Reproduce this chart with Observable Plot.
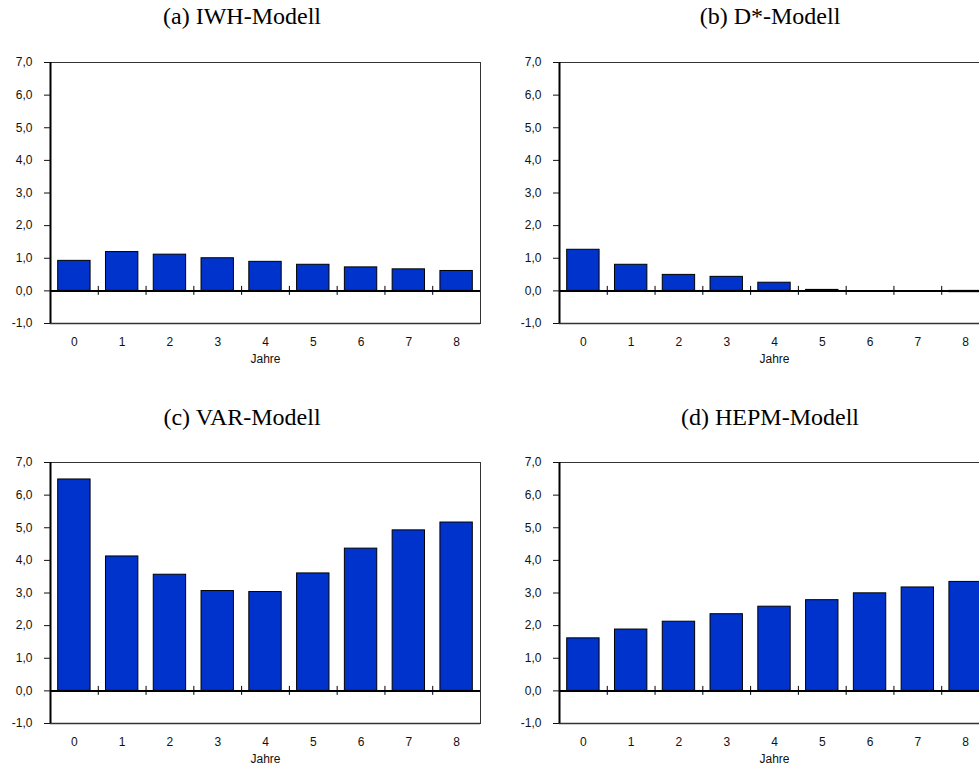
<!DOCTYPE html>
<html><head><meta charset="utf-8">
<script src="https://cdn.jsdelivr.net/npm/d3@7"></script>
<script src="https://cdn.jsdelivr.net/npm/@observablehq/plot@0.6"></script>
<style>
html,body{margin:0;padding:0;background:#fff;overflow:hidden;}
#wrap{position:relative;width:979px;height:769px;overflow:hidden;background:#fff;}
.title{position:absolute;font-family:"Liberation Serif","Times New Roman",serif;font-size:24px;color:#000;transform:translateX(-50%);white-space:nowrap;line-height:1;}
.panel{position:absolute;width:490px;}
.panel svg{max-width:none !important;width:490px;}
</style></head><body><div id="wrap"></div>
<script>
const years = [0, 1, 2, 3, 4, 5, 6, 7, 8];
const iwh   = [0.92, 1.19, 1.11, 1.00, 0.89, 0.80, 0.72, 0.66, 0.61];
const dstar = [1.26, 0.80, 0.49, 0.43, 0.25, 0.03, 0.00, 0.00, -0.04];
const varM  = [6.48, 4.12, 3.56, 3.06, 3.03, 3.60, 4.36, 4.92, 5.16];
const hepm  = [1.61, 1.88, 2.12, 2.35, 2.58, 2.78, 2.99, 3.17, 3.34];
const yTicks = [-1, 0, 1, 2, 3, 4, 5, 6, 7];
const titles = ["(a) IWH-Modell", "(b) D*-Modell", "(c) VAR-Modell", "(d) HEPM-Modell"];
const xLabel = "Jahre";

const wrap = document.getElementById("wrap");
const bounds = years.slice(1).map(y => y - 0.5);

function panel(values, title, left, top, titleX, titleTop) {
  const data = years.map((y, i) => ({year: y, value: values[i]}));
  const chart = Plot.plot({
    width: 490, height: 329,
    marginLeft: 50, marginRight: 10, marginTop: 20, marginBottom: 48,
    style: {fontFamily: "'Liberation Sans', Arial, sans-serif", fontSize: "12px", color: "#111", background: "#fff", overflow: "visible", maxWidth: "none"},
    x: {domain: [-0.5, 8.5], label: null},
    y: {domain: [-1, 7], label: null},
    marks: [
      Plot.rectY(data, {x1: d => d.year - 0.5, x2: d => d.year + 0.5, y: "value",
        fill: "#0033cc", stroke: "#000", strokeWidth: 1, insetLeft: 7.7, insetRight: 7.7}),
      Plot.frame({stroke: "#333", strokeWidth: 1}),
      Plot.ruleY([-1], {stroke: "#333", strokeWidth: 1.5}),
      Plot.ruleY([0], {stroke: "#000", strokeWidth: 2}),
      Plot.ruleX([-0.5], {stroke: "#000", strokeWidth: 2}),
      Plot.ruleX(bounds, {x: d => d, y1: 0, y2: 0, insetTop: -4.5, insetBottom: -4.5, stroke: "#000", strokeWidth: 1}),
      Plot.axisY({ticks: yTicks, tickFormat: d => d.toFixed(1).replace(".", ","), tickSize: 6, tickPadding: 12, label: null}),
      Plot.axisX({ticks: years, tickFormat: d => String(d), tickSize: 0, tickPadding: 14, label: null}),
      Plot.text([xLabel], {text: d => d, frameAnchor: "bottom", lineAnchor: "top", dy: 31, fill: "#111"})
    ]
  });
  const div = document.createElement("div");
  div.className = "panel";
  div.style.left = left + "px";
  div.style.top = top + "px";
  div.appendChild(chart);
  wrap.appendChild(div);
  const t = document.createElement("div");
  t.className = "title";
  t.textContent = title;
  t.style.left = titleX + "px";
  t.style.top = titleTop + "px";
  wrap.appendChild(t);
}

panel(iwh,   titles[0], 0,   42, 242, 3.9);
panel(dstar, titles[1], 509, 42, 770, 3.9);
panel(varM,  titles[2], 0,   442, 242, 404.9);
panel(hepm,  titles[3], 509, 442, 770, 404.9);
</script>
</body></html>
